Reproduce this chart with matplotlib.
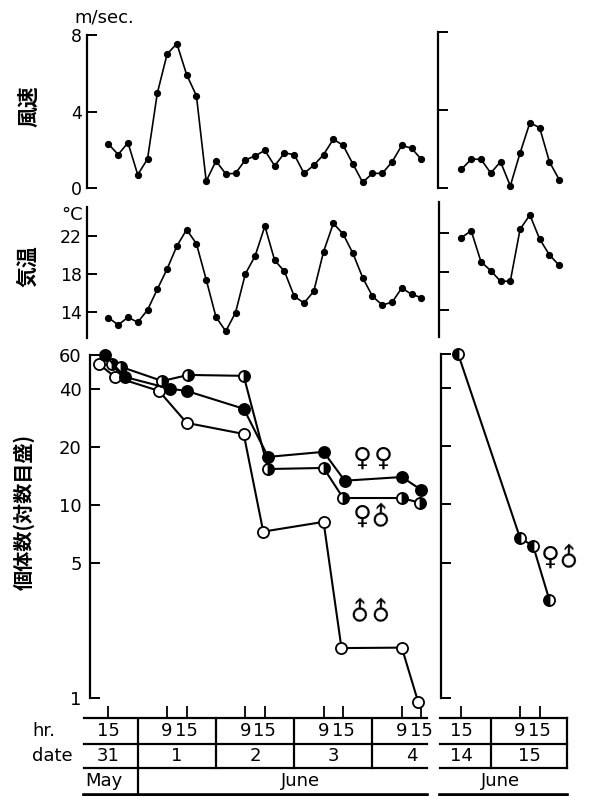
import numpy as np
import matplotlib.pyplot as plt
from matplotlib.ticker import NullLocator, NullFormatter

W, H = 590, 796
plt.rcParams["font.family"] = ["DejaVu Sans"]
JP = ["Noto Sans CJK JP", "DejaVu Sans"]

# ---------------- data ----------------
# hours counted from 0h of the first day of each block (May 31 / June 14)
hr_a = np.arange(15, 112, 3)
wind_a = [2.31, 1.76, 2.38, 0.71, 1.53, 4.96, 7.0, 7.55, 5.93, 4.83, 0.37,
          1.43, 0.75, 0.78, 1.48, 1.69, 1.98, 1.17, 1.84, 1.76, 0.78, 1.2,
          1.76, 2.56, 2.24, 1.27, 0.31, 0.78, 0.78, 1.37, 2.24, 2.09, 1.51]
temp_a = [13.44, 12.68, 13.48, 12.96, 14.24, 16.4, 18.52, 20.92, 22.63, 21.17,
          17.41, 13.51, 12.02, 13.97, 18.0, 19.88, 23.0, 19.43, 18.28, 15.67,
          14.97, 16.19, 20.33, 23.29, 22.17, 20.16, 17.62, 15.67, 14.77, 15.04,
          16.54, 15.88, 15.53]

hr_b = np.arange(15, 46, 3)
wind_b = [0.94, 1.46, 1.46, 0.75, 1.33, 0.09, 1.78, 3.33, 3.08, 1.33, 0.41]
temp_b = [21.54, 22.27, 19.04, 18.10, 17.0, 17.0, 22.42, 23.91, 21.41, 19.74, 18.66]

# survivors per cage (female-female, female-male, male-male)
hr_ff = [14, 20, 34, 39, 56.5, 64, 81, 87.5, 105, 111]
n_ff = [60, 46.2, 40.1, 39.1, 31.6, 17.8, 18.9, 13.4, 14.0, 12.0]
hr_fm = [16, 19, 31.5, 39.5, 56.5, 64, 81, 87, 105, 110.5]
n_fm = [54, 52, 44, 47.3, 46.8, 15.4, 15.6, 10.9, 10.9, 10.3]
hr_mm = [12, 17, 30.5, 39, 56.5, 62.5, 81, 86.5, 105, 110]
n_mm = [54, 46.2, 39.1, 26.7, 23.4, 7.3, 8.2, 1.82, 1.83, 0.96]
hr_fm2 = [14, 33, 37, 42]
n_fm2 = [60, 6.7, 6.1, 3.2]

census_a = [15, 33, 39, 57, 63, 81, 87, 105, 111]
census_b = [15, 33, 39]
hr_text_a = ["15", "9", "15", "9", "15", "9", "15", "9", "15"]
hr_text_b = ["15", "9", "15"]
date_a = ["31", "1", "2", "3", "4"]
date_pos_a = [15, 36, 60, 84, 108]
date_b = ["14", "15"]
date_pos_b = [15, 36]

# ---------------- layout helpers (pixels) ----------------
PX_HR = 3.26          # pixels per hour
X0_A, X0_B = 59.5, 412.5   # pixel x of hour 0 in each block

fig = plt.figure(figsize=(W / 100, H / 100), dpi=100)
fig.patch.set_facecolor("white")


def axes_px(left, right, top, bottom, x0):
    ax = fig.add_axes([left / W, 1 - bottom / H, (right - left) / W, (bottom - top) / H])
    ax.set_xlim((left - x0) / PX_HR, (right - x0) / PX_HR)
    ax.patch.set_alpha(0)
    return ax


def fit_y(ax, top, bottom, ref1, ref2, log=False):
    (v1, p1), (v2, p2) = ref1, ref2
    f = np.log10 if log else (lambda v: v)
    a1, a2 = f(v1), f(v2)
    k = (a2 - a1) / (p2 - p1)
    lo, hi = a1 + k * (bottom - p1), a1 + k * (top - p1)
    if log:
        ax.set_yscale("log")
        lo, hi = 10 ** lo, 10 ** hi
    ax.set_ylim(lo, hi)


def style_panel(ax, ticks, labels, bounds, pad, size):
    for s in ("top", "right", "bottom"):
        ax.spines[s].set_visible(False)
    ax.spines["left"].set_bounds(*bounds)
    ax.spines["left"].set_linewidth(1.6)
    ax.yaxis.set_minor_locator(NullLocator())
    ax.yaxis.set_minor_formatter(NullFormatter())
    ax.set_yticks(ticks)
    ax.set_yticklabels(labels if labels else [""] * len(ticks))
    ax.tick_params(axis="y", direction="in", length=7, width=1.4, pad=pad, labelsize=size)
    ax.set_xticks([])


def weather(ax, x, y):
    ax.plot(x, y, "-o", color="black", lw=1.2, ms=4.2, clip_on=False)


# ---------------- wind ----------------
ax = axes_px(87, 432, 25, 198, X0_A)
fit_y(ax, 25, 198, (0, 188.3), (8, 35))
style_panel(ax, [0, 4, 8], ["0", "4", "8"], (0, 8), 3.5, 12.5)
weather(ax, hr_a, wind_a)

ax = axes_px(438, 572, 25, 198, X0_B)
fit_y(ax, 25, 198, (0, 187.7), (8, 31.7))
style_panel(ax, [0, 4, 8], None, (0, 8), 3.5, 12.5)
weather(ax, hr_b, wind_b)

# ---------------- air temperature ----------------
ax = axes_px(87, 432, 200, 342, X0_A)
fit_y(ax, 200, 342, (22, 235.7), (14, 312.3))
style_panel(ax, [14, 18, 22], ["14", "18", "22"], (11.3, 25.0), 3.5, 12.5)
weather(ax, hr_a, temp_a)

ax = axes_px(439, 572, 200, 342, X0_B)
fit_y(ax, 200, 342, (22, 233.3), (14, 310))
style_panel(ax, [14, 18, 22], None, (11.2, 25.3), 3.5, 12.5)
weather(ax, hr_b, temp_b)

# ---------------- survivors (log scale) ----------------
n_ticks = [1, 5, 10, 20, 40, 60]
mk = dict(color="black", lw=1.5, marker="o", ms=8, mew=1.3, mec="black", clip_on=False)

ax = axes_px(90, 432, 345, 718, X0_A)
fit_y(ax, 345, 718, (1, 698.3), (60, 355), log=True)
style_panel(ax, n_ticks, [str(v) for v in n_ticks], (1, 60), 6, 13)
ax.set_xticks(census_a)
ax.tick_params(axis="x", direction="in", length=9, width=1.3, labelbottom=False)
ax.plot(hr_mm, n_mm, mfc="white", **mk)
ax.plot(hr_fm, n_fm, mfc="black", markerfacecoloralt="white", fillstyle="right", **mk)
ax.plot(hr_ff, n_ff, mfc="black", **mk)


def sexes(ax, t, v, signs):
    for dx, s in zip((-7.5, 7.5), signs):
        ax.annotate(s, (t, v), xytext=(dx, 0), textcoords="offset points",
                    ha="center", va="center", fontsize=18.5, fontweight="bold",
                    rotation=45 if s == "♂" else 0, rotation_mode="anchor")


sexes(ax, 96, 17.4, "♀♀")
sexes(ax, 96, 8.7, "♀♂")
sexes(ax, 96, 2.8, "♂♂")

ax = axes_px(441, 572, 345, 718, X0_B)
fit_y(ax, 345, 718, (1, 697.7), (60, 354), log=True)
style_panel(ax, n_ticks, None, (1, 60), 6, 13)
ax.set_xticks(census_b)
ax.tick_params(axis="x", direction="in", length=9, width=1.3, labelbottom=False)
ax.plot(hr_fm2, n_fm2, mfc="black", markerfacecoloralt="white", fillstyle="left", **mk)
sexes(ax, 45.5, 5.3, "♀♂")

# ---------------- axis titles ----------------
fig.text(74 / W, 1 - 17 / H, "m/sec.", fontsize=13, ha="left", va="center")
fig.text(83 / W, 1 - 215 / H, "°C", fontsize=13, ha="right", va="center")
fig.text(29 / W, 1 - 106 / H, "風速", family=JP, fontsize=15, fontweight="bold",
         rotation=90, ha="center", va="center")
fig.text(28 / W, 1 - 266 / H, "気温", family=JP, fontsize=15, fontweight="bold",
         rotation=90, ha="center", va="center")
fig.text(24 / W, 1 - 512 / H, "個体数(対数目盛)", family=JP, fontsize=14.5, fontweight="bold",
         rotation=90, ha="center", va="center")

# ---------------- hour / date / month table ----------------
ROWS = (718, 744, 768, 795)   # row borders (px)
HR_Y, DATE_Y, MON_Y = 731, 756, 781


def table(left, right, x0):
    tb = axes_px(left, right, ROWS[0], H, x0)
    tb.set_ylim(H, ROWS[0])
    tb.axis("off")
    t0, t1 = tb.get_xlim()
    for y in ROWS[:3]:
        tb.plot([t0, t1], [y, y], color="black", lw=1.6, clip_on=False)
    tb.plot([t0, t1], [ROWS[3], ROWS[3]], color="black", lw=2.6, clip_on=False)
    return tb, t1


tb, end = table(84, 427, X0_A)
tb.plot([24, 24], [ROWS[0], ROWS[3]], color="black", lw=1.6)
for d in (48, 72, 96):
    tb.plot([d, d], [ROWS[0], ROWS[2]], color="black", lw=1.6)
for t, s in zip(census_a, hr_text_a):
    tb.text(t, HR_Y, s, ha="center", va="center", fontsize=13)
for t, s in zip(date_pos_a, date_a):
    tb.text(t, DATE_Y, s, ha="center", va="center", fontsize=13)
tb.text(13.5, MON_Y, "May", ha="center", va="center", fontsize=13)
tb.text(74, MON_Y, "June", ha="center", va="center", fontsize=13)

tb, end = table(440, 567, X0_B)
tb.plot([24, 24], [ROWS[0], ROWS[2]], color="black", lw=1.6)
tb.plot([end, end], [ROWS[0], ROWS[2]], color="black", lw=1.6, clip_on=False)
for t, s in zip(census_b, hr_text_b):
    tb.text(t, HR_Y, s, ha="center", va="center", fontsize=13)
for t, s in zip(date_pos_b, date_b):
    tb.text(t, DATE_Y, s, ha="center", va="center", fontsize=13)
tb.text(27, MON_Y, "June", ha="center", va="center", fontsize=13)

fig.text(32 / W, 1 - HR_Y / H, "hr.", fontsize=13, ha="left", va="center")
fig.text(32 / W, 1 - DATE_Y / H, "date", fontsize=13, ha="left", va="center")

fig.savefig("out.png", dpi=100, facecolor="white")
